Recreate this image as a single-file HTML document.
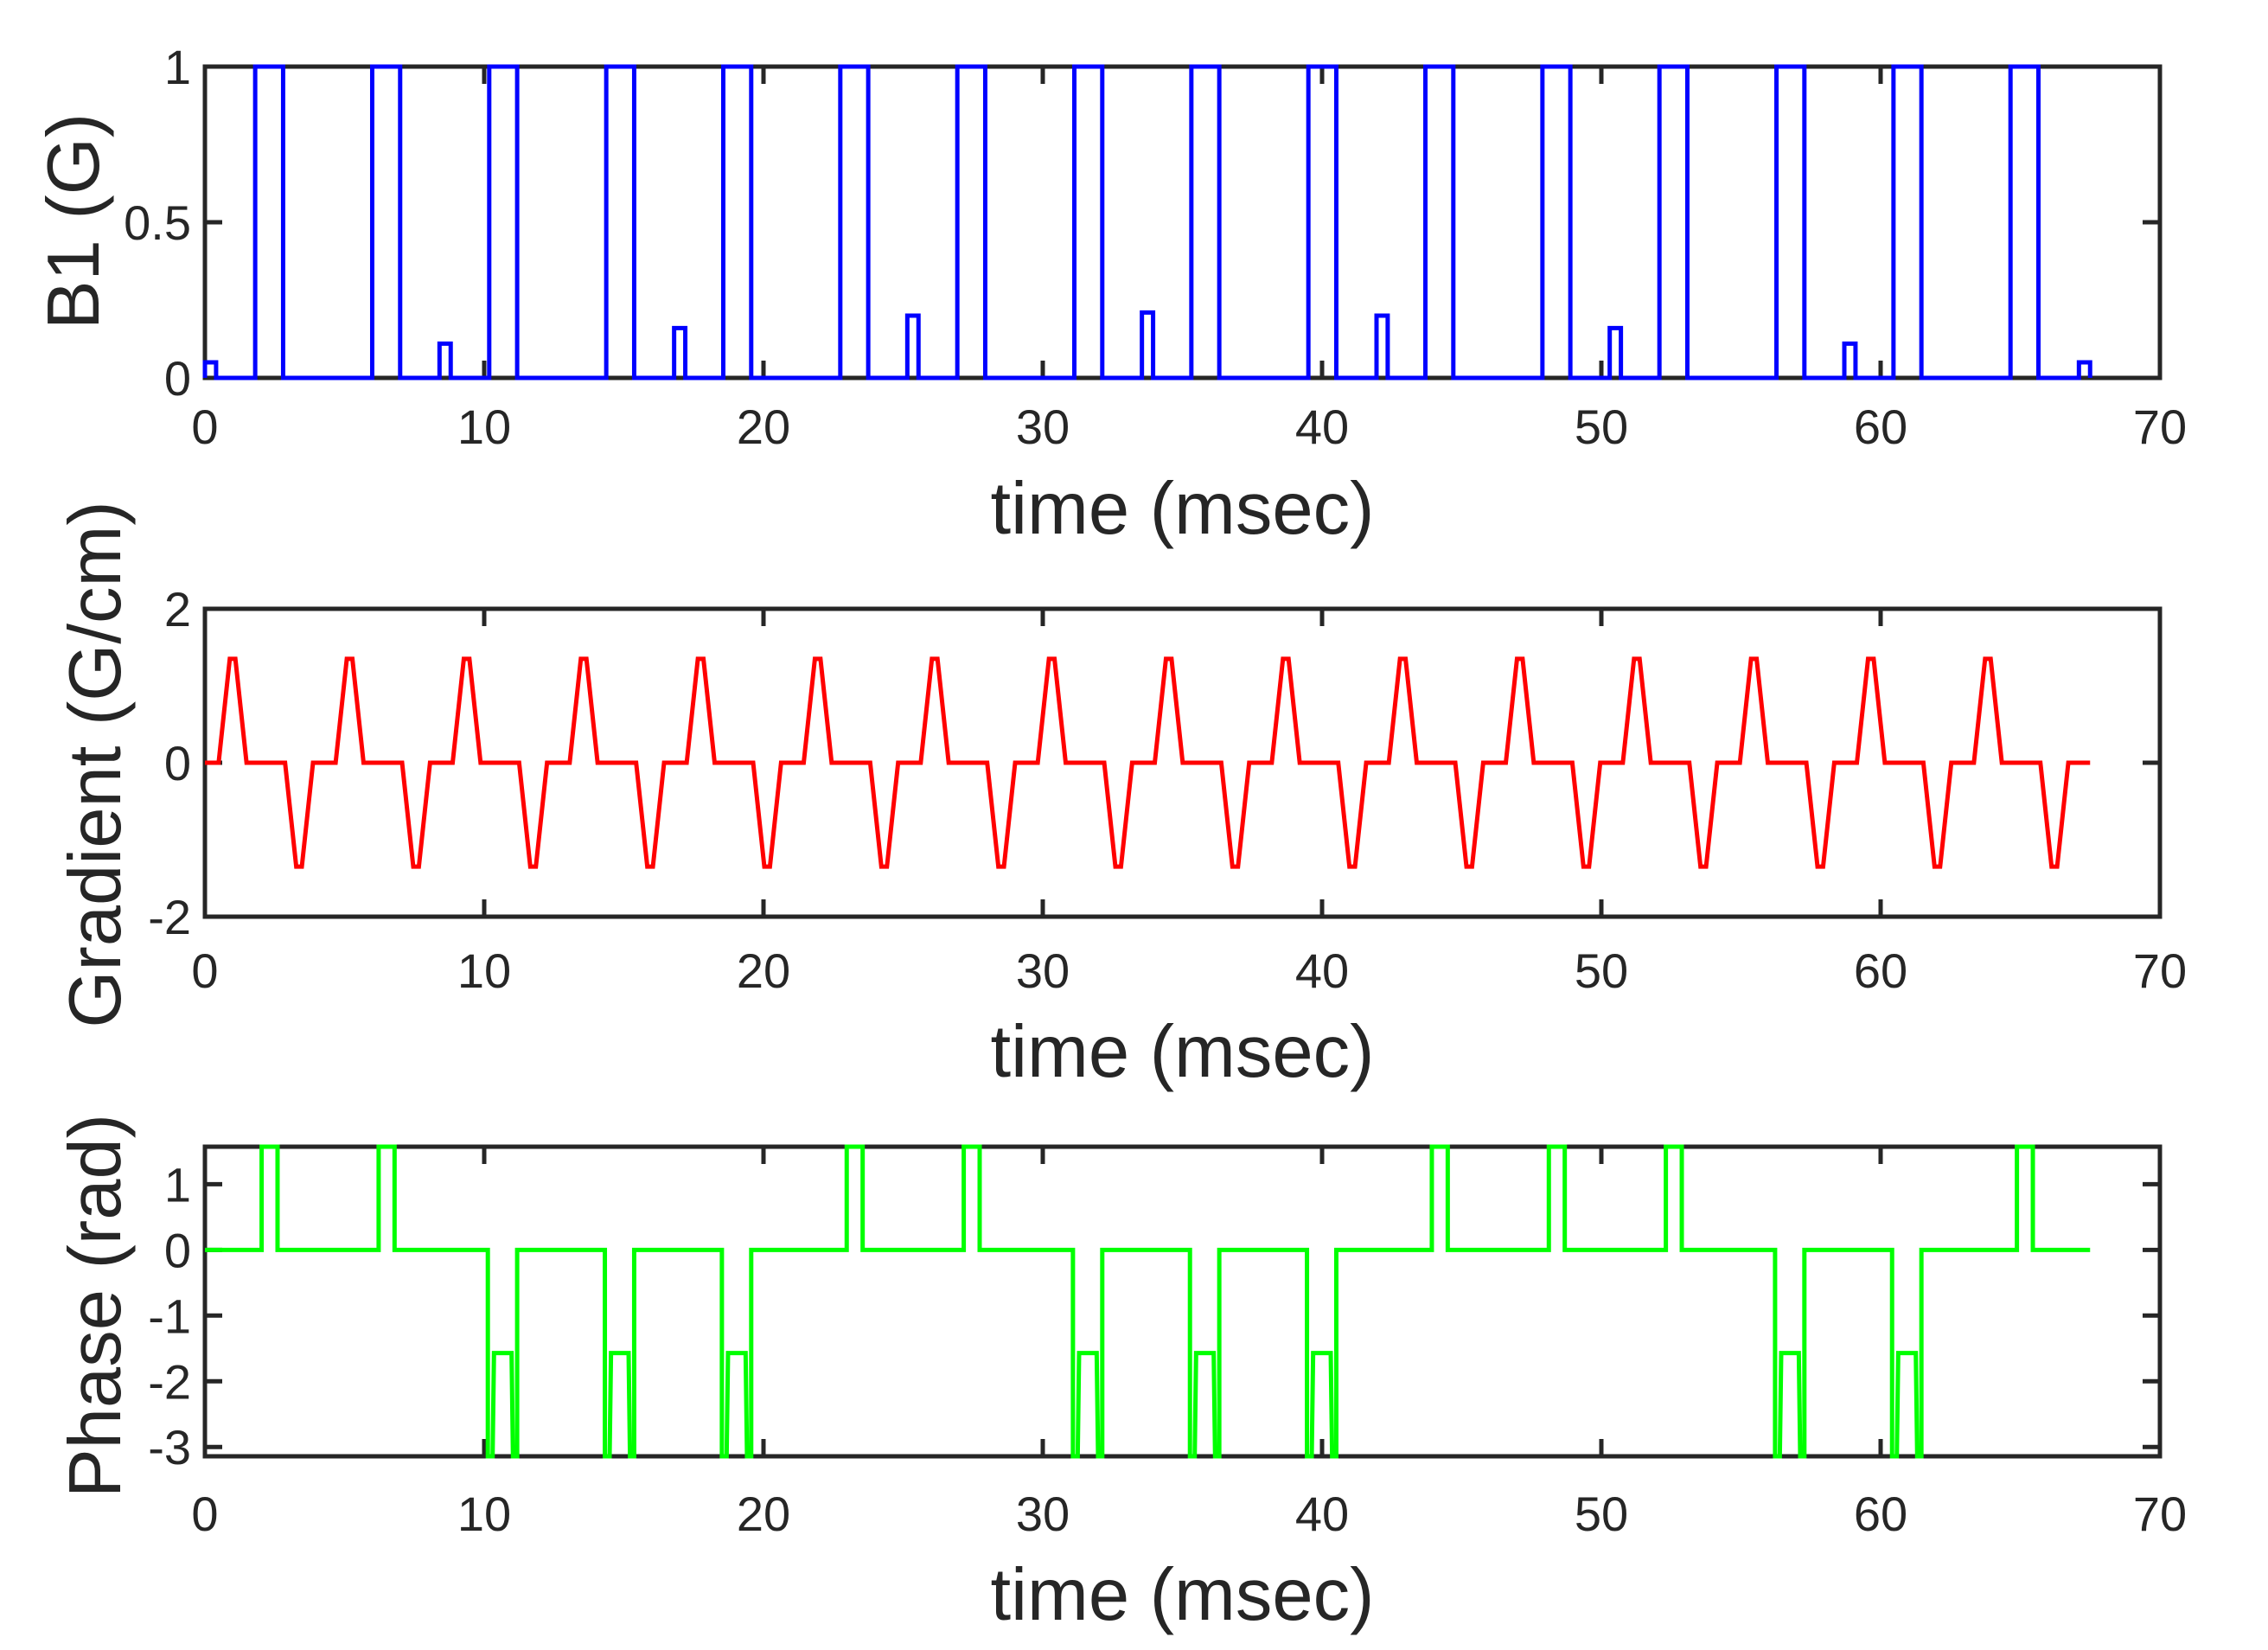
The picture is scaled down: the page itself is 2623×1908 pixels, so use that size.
<!DOCTYPE html>
<html><head><meta charset="utf-8">
<style>
html,body{margin:0;padding:0;background:#fff;}
svg{display:block;font-family:"Liberation Sans",Arial,sans-serif;}
</style></head>
<body>
<svg id="fig" xmlns="http://www.w3.org/2000/svg" width="2623" height="1908" viewBox="0 0 2623 1908"></svg>
<script>
// ---- data ----
const xTicks = [0,10,20,30,40,50,60,70];
const b1Ticks = [0,0.5,1];
const b1TickLabels = ["0","0.5","1"];
const gTicks = [-2,0,2];
const gTickLabels = ["-2","0","2"];
const phTicks = [-3,-2,-1,0,1];
const phTickLabels = ["-3","-2","-1","0","1"];

const rfStarts = [1.8,5.99,10.18,14.37,18.56,22.75,26.94,31.13,35.32,39.51,43.7,47.89,52.08,56.27,60.46,64.65];
const rfAmps   = [1,1,1,1,1,1,1,1,1,1,1,1,1,1,1,1];
const rfWidth = 1.0;
const smallStarts = [0,8.4,16.8,25.15,33.55,41.95,50.3,58.7,67.1];
const smallAmps   = [0.05,0.11,0.16,0.2,0.21,0.2,0.16,0.11,0.05];
const smallWidth = 0.4;

const gradPosCenters = [0.99,5.18,9.37,13.56,17.75,21.94,26.13,30.32,34.51,38.7,42.89,47.08,51.27,55.46,59.65,63.84];
const gradNegCenters = [3.37,7.56,11.75,15.94,20.13,24.32,28.51,32.7,36.89,41.08,45.27,49.46,53.65,57.84,62.03,66.22];
const gradAmp = 1.35;

const phaseSigns = [1,1,-1,-1,-1,1,1,-1,-1,-1,1,1,1,-1,-1,1];
const tEnd = 67.5;

// ---- layout ----
const X0 = 237, X1 = 2498;
const panels = [
  {name:"b1", top:77, bot:437, ymin:0, ymax:1, ticks:b1Ticks, labels:b1TickLabels, title:"B1 (G)", tx:84, ty:256, xl:498, xt:593},
  {name:"gradient", top:704, bot:1060, ymin:-2, ymax:2, ticks:gTicks, labels:gTickLabels, title:"Gradient (G/cm)", tx:109, ty:884, xl:1127, xt:1221},
  {name:"phase", top:1326, bot:1684, ymin:-Math.PI, ymax:Math.PI/2, ticks:phTicks, labels:phTickLabels, title:"Phase (rad)", tx:109, ty:1510, xl:1755, xt:1849}
];
const NS = "http://www.w3.org/2000/svg";
const svg = document.getElementById('fig');
function mk(tag, attrs, parent){
  const e = document.createElementNS(NS, tag);
  for (const k in attrs) e.setAttribute(k, attrs[k]);
  (parent||svg).appendChild(e); return e;
}
const xs = t => X0 + (t/70)*(X1-X0);
function ysFor(p){ return v => p.bot - (v-p.ymin)/(p.ymax-p.ymin)*(p.bot-p.top); }

const AX = "#262626";
panels.forEach(p => {
  const ys = ysFor(p);
  const g = mk('g', {});
  
  
  xTicks.forEach((t,i) => {
    const x = xs(t);
    const a = mk('line',{x1:x,x2:x,y1:p.bot,y2:p.bot-20,stroke:AX,'stroke-width':5},g);
    
    
    const b = mk('line',{x1:x,x2:x,y1:p.top,y2:p.top+20,stroke:AX,'stroke-width':5},g);
    
    
    const lab = mk('text',{x:x,y:p.xl+15,'text-anchor':'middle','font-size':56,fill:AX},g);
    lab.textContent = String(t);
    
    
  });
  p.ticks.forEach((v,i) => {
    const y = ys(v);
    const a = mk('line',{x1:X0,x2:X0+20,y1:y,y2:y,stroke:AX,'stroke-width':5},g);
    
    
    const b = mk('line',{x1:X1,x2:X1-20,y1:y,y2:y,stroke:AX,'stroke-width':5},g);
    
    
    const lab = mk('text',{x:X0-16,y:y+20,'text-anchor':'end','font-size':56,fill:AX},g);
    lab.textContent = p.labels[i];
    
    
  });
  const box = mk('rect',{x:X0,y:p.top,width:X1-X0,height:p.bot-p.top,fill:'none',stroke:AX,'stroke-width':5},g);
  
  
  const xt = mk('text',{x:(X0+X1)/2,y:p.xt+24,'text-anchor':'middle','font-size':85,fill:AX},g);
  xt.textContent = "time (msec)";
  
  
  const yt = mk('text',{x:0,y:0,'text-anchor':'middle','font-size':85,fill:AX,transform:`translate(${p.tx+30},${p.ty}) rotate(-90)`},g);
  yt.textContent = p.title;
  
  
});

function drawPath(pts, color, name){
  const d = pts.map((q,i)=>(i?'L':'M')+q[0].toFixed(2)+' '+q[1].toFixed(2)).join(' ');
  const el = mk('path',{d:d,fill:'none',stroke:color,'stroke-width':5,'stroke-linejoin':'miter'});
  
  
}
// B1
(function(){
  const p = panels[0], ys = ysFor(p);
  const pulses = [];
  rfStarts.forEach((s,i)=>pulses.push([s,rfWidth,rfAmps[i]]));
  smallStarts.forEach((s,i)=>pulses.push([s,smallWidth,smallAmps[i]]));
  pulses.sort((a,b)=>a[0]-b[0]);
  const pts = [[xs(0),ys(0)]];
  pulses.forEach(([s,w,a])=>{
    const e = Math.min(s+w,tEnd);
    pts.push([xs(s),ys(0)],[xs(s),ys(a)],[xs(e),ys(a)],[xs(e),ys(0)]);
  });
  pts.push([xs(tEnd),ys(0)]);
  drawPath(pts,'#0000ff','b1-series-line');
})();
// Gradient
(function(){
  const p = panels[1], ys = ysFor(p);
  const lobes = [];
  gradPosCenters.forEach(c=>lobes.push([c,gradAmp]));
  gradNegCenters.forEach(c=>lobes.push([c,-gradAmp]));
  lobes.sort((a,b)=>a[0]-b[0]);
  const pts = [[xs(0),ys(0)]];
  lobes.forEach(([c,a])=>{
    pts.push([xs(c-0.5),ys(0)],[xs(c-0.1),ys(a)],[xs(c+0.1),ys(a)],[xs(c+0.5),ys(0)]);
  });
  pts.push([xs(tEnd),ys(0)]);
  drawPath(pts,'#ff0000','gradient-series-line');
})();
// Phase
(function(){
  const p = panels[2], ys = ysFor(p);
  const PI = Math.PI;
  const pts = [[xs(0),ys(0)]];
  rfStarts.forEach((s,i)=>{
    if (phaseSigns[i] > 0){
      pts.push([xs(s+0.23),ys(0)],[xs(s+0.23),ys(PI/2)],[xs(s+0.8),ys(PI/2)],[xs(s+0.8),ys(0)]);
    } else {
      pts.push([xs(s-0.05),ys(0)],[xs(s-0.05),ys(-PI)],[xs(s+0.12),ys(-PI)],[xs(s+0.17),ys(-PI/2)],
               [xs(s+0.8),ys(-PI/2)],[xs(s+0.85),ys(-PI)],[xs(s+1.0),ys(-PI)],[xs(s+1.0),ys(0)]);
    }
  });
  pts.push([xs(tEnd),ys(0)]);
  drawPath(pts,'#00ff00','phase-series-line');
})();
</script>
</body></html>
